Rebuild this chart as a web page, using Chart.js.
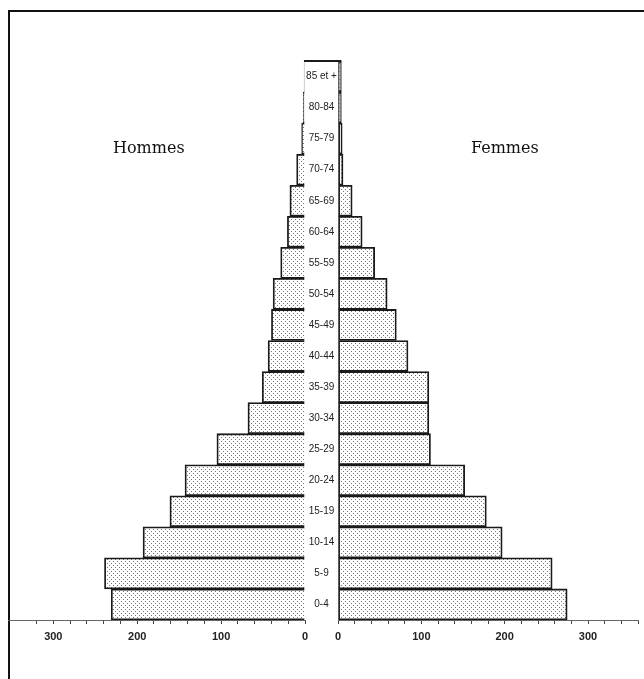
<!DOCTYPE html>
<html>
<head>
<meta charset="utf-8">
<script src="https://cdn.jsdelivr.net/npm/chart.js@4.4.1/dist/chart.umd.min.js"></script>
<style>
  body { margin: 0; background: #fff; }
  #wrap { position: relative; width: 644px; height: 679px; overflow: hidden; }
  #frame { position: absolute; left: 8px; top: 10px; right: -10px; bottom: -10px;
           border-top: 2px solid #111; border-left: 2px solid #111; }
  canvas { position: absolute; top: 0; }
  #left { left: 0; }
  #right { left: 280px; }
  .sex { position: absolute; font-family: "DejaVu Serif", serif; font-size: 16px; color: #111; }
</style>
</head>
<body>
<div id="wrap">
  <div id="frame"></div>
  <canvas id="left" width="322" height="679"></canvas>
  <canvas id="right" width="364" height="679"></canvas>
  <div class="sex" style="left:113px; top:138px;">Hommes</div>
  <div class="sex" style="left:471px; top:138px;">Femmes</div>
</div>
<script>
// age groups, youngest first
const ages = ['0-4', '5-9', '10-14', '15-19', '20-24', '25-29', '30-34', '35-39', '40-44',
  '45-49', '50-54', '55-59', '60-64', '65-69', '70-74', '75-79', '80-84', '85 et +'];
const hommes = [231, 239, 193, 161, 143, 105, 68, 51, 44, 40, 38, 29, 21, 18, 10, 4, 2, 1];
const femmes = [275, 257, 197, 178, 152, 111, 109, 109, 84, 70, 59, 44, 29, 17, 6, 5, 4, 4];
const tickLabels = [0, 100, 200, 300];

// dotted fill like the printed figure
function makeDots() {
  const c = document.createElement('canvas');
  c.width = 4; c.height = 4;
  const g = c.getContext('2d');
  g.fillStyle = '#fff';
  g.fillRect(0, 0, 4, 4);
  g.fillStyle = '#777';
  g.fillRect(1, 1, 1, 1);
  g.fillRect(3, 3, 1, 1);
  return g.createPattern(c, 'repeat');
}
const dots = makeDots();

function xAxis(max, reverse) {
  return {
    type: 'linear',
    min: 0,
    max: max,
    reverse: reverse,
    afterBuildTicks: s => { s.ticks = s.ticks.filter(t => t.value % 20 === 0); },
    afterFit: s => { s.height = 40; },
    grid: { drawOnChartArea: false, drawTicks: true, tickLength: 4, color: '#444' },
    border: { display: true, color: '#666', width: 1 },
    ticks: {
      stepSize: 20,
      autoSkip: false,
      maxRotation: 0,
      padding: 6,
      color: '#222',
      font: { family: 'Liberation Sans, Arial, sans-serif', size: 11, weight: 'bold' },
      callback: v => tickLabels.includes(v) ? String(v) : ''
    }
  };
}

new Chart(document.getElementById('left'), {
  type: 'bar',
  data: {
    labels: ages,
    datasets: [{
      label: 'Hommes',
      data: hommes,
      backgroundColor: dots,
      borderColor: '#1a1a1a',
      borderWidth: 1.8,
      borderSkipped: 'start',
      barPercentage: 1,
      categoryPercentage: 1
    }]
  },
  options: {
    indexAxis: 'y',
    animation: false,
    responsive: false,
    layout: { padding: { left: 8, right: 17, top: 61, bottom: 19 } },
    plugins: { legend: { display: false }, tooltip: { enabled: false } },
    scales: {
      x: xAxis(354, true),
      y: { type: 'category', reverse: true, display: false }
    }
  }
});

// age labels centred in the middle column, plus the line over the top one
const middle = {
  id: 'middle',
  afterDraw(chart) {
    const y = chart.scales.y, x = chart.scales.x;
    const ctx = chart.ctx;
    const last = ages.length - 1;
    const half = (y.getPixelForValue(0) - y.getPixelForValue(1)) / 2;
    const cx = (y.left + y.right) / 2;
    ctx.save();
    ctx.fillStyle = '#222';
    ctx.font = '10px "Liberation Sans Narrow", "Arial Narrow", Arial, sans-serif';
    ctx.textAlign = 'center';
    ctx.textBaseline = 'middle';
    ages.forEach((a, i) => ctx.fillText(a, cx, y.getPixelForValue(i)));
    const top = y.getPixelForValue(last) - half;
    ctx.strokeStyle = '#1a1a1a';
    ctx.lineWidth = 1.8;
    ctx.beginPath();
    ctx.moveTo(y.left - 1, top);
    ctx.lineTo(x.getPixelForValue(femmes[last]), top);
    ctx.stroke();
    ctx.restore();
  }
};

new Chart(document.getElementById('right'), {
  type: 'bar',
  data: {
    labels: ages,
    datasets: [{
      label: 'Femmes',
      data: femmes,
      backgroundColor: dots,
      borderColor: '#1a1a1a',
      borderWidth: 1.8,
      borderSkipped: false,
      barPercentage: 1,
      categoryPercentage: 1
    }]
  },
  options: {
    indexAxis: 'y',
    animation: false,
    responsive: false,
    layout: { padding: { left: 25, right: 4, top: 61, bottom: 19 } },
    plugins: { legend: { display: false }, tooltip: { enabled: false } },
    scales: {
      x: xAxis(360, false),
      y: {
        type: 'category',
        reverse: true,
        position: 'left',
        grid: { display: false },
        border: { display: false },
        ticks: { display: false },
        afterFit: s => { s.width = 33; }
      }
    }
  },
  plugins: [middle]
});
</script>
</body>
</html>
